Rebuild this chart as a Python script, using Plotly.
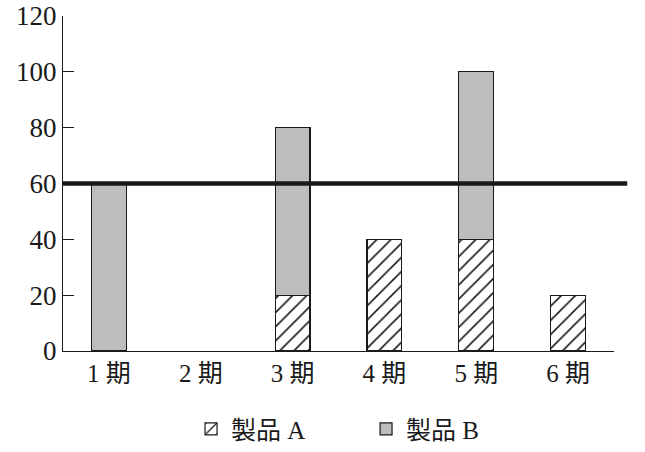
import plotly.graph_objects as go

# data (None = no bar in that period)
periods = ["1 期", "2 期", "3 期", "4 期", "5 期", "6 期"]
product_a = [None, None, 20, 40, 40, 20]
product_b = [60, None, 60, None, 60, None]
limit_value = 60
y_ticks = [0, 20, 40, 60, 80, 100, 120]

FONT = "Liberation Serif, Noto Sans CJK JP, serif"
INK = "#1a1a1a"

fig = go.Figure()

fig.add_trace(go.Bar(
    x=periods, y=product_a, name="製品 A", width=0.38,
    marker=dict(
        color="white",
        line=dict(color=INK, width=1.2),
        pattern=dict(shape="/", fgcolor=INK, bgcolor="white", fgopacity=1,
                     size=10, solidity=0.16),
    ),
))
fig.add_trace(go.Bar(
    x=periods, y=product_b, name="製品 B", width=0.38,
    marker=dict(color="#bdbdbd", line=dict(color=INK, width=1.2)),
))

# threshold line, runs a little past the end of the x axis
fig.add_shape(type="line", xref="paper", yref="y",
              x0=0, x1=1.024, y0=limit_value, y1=limit_value,
              line=dict(color=INK, width=4.5))

fig.update_layout(
    barmode="stack",
    width=645, height=452,
    margin=dict(l=63, r=31, t=16, b=101, autoexpand=False),
    plot_bgcolor="white", paper_bgcolor="white",
    font=dict(family=FONT, size=24, color=INK),
    showlegend=True,
    legend=dict(orientation="h", x=0.55, xanchor="center",
                y=-0.233, yanchor="middle",
                font=dict(size=25), entrywidth=130,
                traceorder="normal"),
)
fig.update_xaxes(
    range=[-0.5, 5.5], showline=True, linecolor=INK, linewidth=1.2,
    ticks="", showgrid=False, tickfont=dict(size=25),
)
fig.update_yaxes(
    range=[0, 120], tickvals=y_ticks, showline=True, linecolor=INK,
    linewidth=1.2, ticks="inside", ticklen=11, tickcolor=INK,
    showgrid=False, zeroline=False, tickfont=dict(size=27),
    ticklabeloverflow="allow",
)

# drop the default 8px page margin so the figure sits at the window corner
fig.write_html("out.html", config={"displayModeBar": False},
               post_script="document.body.style.margin='0';")
